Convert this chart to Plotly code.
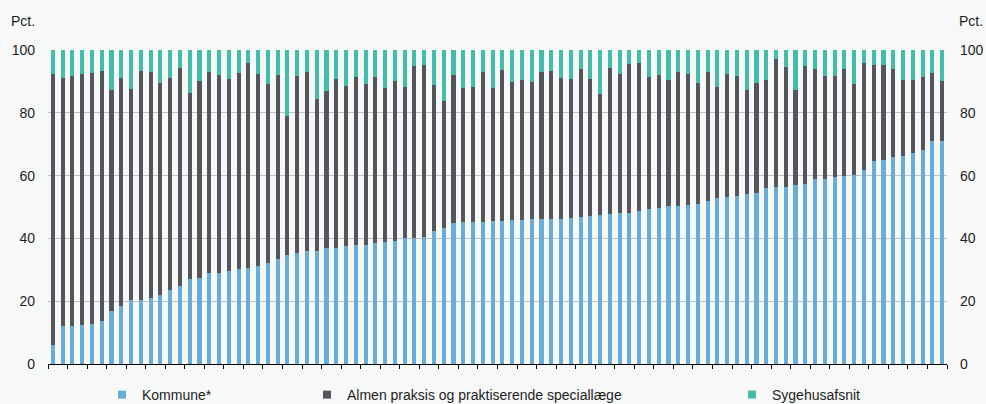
import plotly.graph_objects as go

# Municipalities (sorted by Kommune share); names are not shown in the chart
municipalities = [str(i) for i in range(1, 93)]

kommune = [6.2, 12.0, 12.0, 12.3, 12.7, 13.7, 16.9, 18.4, 20.3, 20.5,
           21.1, 22.0, 23.7, 24.8, 27.2, 27.4, 28.9, 29.0, 29.7, 30.1,
           30.7, 31.2, 32.3, 33.3, 34.6, 35.4, 36.0, 36.1, 36.8, 37.0,
           37.7, 38.0, 38.0, 38.6, 39.0, 39.2, 40.1, 40.2, 40.4, 42.3,
           43.2, 44.9, 45.1, 45.2, 45.3, 45.5, 45.5, 45.8, 45.9, 46.1,
           46.1, 46.2, 46.2, 46.5, 46.8, 47.2, 47.5, 47.7, 48.1, 48.1,
           48.7, 49.4, 49.6, 50.2, 50.4, 50.5, 50.8, 51.8, 52.9, 53.1,
           53.6, 54.2, 54.5, 56.2, 56.4, 56.5, 57.0, 57.2, 58.8, 58.9,
           59.6, 59.9, 60.2, 61.9, 64.6, 65.0, 65.9, 66.3, 67.3, 68.2,
           70.9, 71.0]

almen = [86.3, 79.2, 79.8, 80.1, 80.1, 79.7, 70.4, 72.8, 67.2, 72.9,
         71.8, 67.6, 67.5, 69.6, 59.0, 62.7, 64.2, 63.1, 61.2, 62.5,
         65.1, 61.3, 57.0, 58.7, 44.5, 56.4, 57.1, 48.3, 50.2, 53.9,
         50.9, 53.5, 51.3, 52.9, 48.8, 51.0, 48.2, 54.7, 54.9, 46.7,
         40.6, 47.1, 42.9, 43.1, 47.8, 42.5, 48.2, 43.9, 44.7, 43.8,
         47.0, 47.2, 45.0, 44.4, 47.3, 43.6, 38.6, 46.7, 44.4, 47.5,
         47.1, 42.1, 42.5, 40.4, 42.7, 41.9, 38.7, 41.3, 35.4, 39.4,
         38.2, 33.2, 35.1, 34.1, 40.8, 38.2, 30.3, 37.7, 35.3, 32.9,
         32.2, 34.2, 29.1, 34.1, 30.7, 30.3, 28.2, 24.3, 23.3, 23.3,
         21.9, 19.2]

sygehus = [7.5, 8.8, 8.2, 7.6, 7.2, 6.6, 12.7, 8.8, 12.5, 6.6,
           7.1, 10.4, 8.8, 5.6, 13.8, 9.9, 6.9, 7.9, 9.1, 7.4,
           4.2, 7.5, 10.7, 8.0, 20.9, 8.2, 6.9, 15.6, 13.0, 9.1,
           11.4, 8.5, 10.7, 8.5, 12.2, 9.8, 11.7, 5.1, 4.7, 11.0,
           16.2, 8.0, 12.0, 11.7, 6.9, 12.0, 6.3, 10.3, 9.4, 10.1,
           6.9, 6.6, 8.8, 9.1, 5.9, 9.2, 13.9, 5.6, 7.5, 4.4,
           4.2, 8.5, 7.9, 9.4, 6.9, 7.6, 10.5, 6.9, 11.7, 7.5,
           8.2, 12.6, 10.4, 9.7, 2.8, 5.3, 12.7, 5.1, 5.9, 8.2,
           8.2, 5.9, 10.7, 4.0, 4.7, 4.7, 5.9, 9.4, 9.4, 8.5,
           7.2, 9.8]

series_names = ["Kommune*", "Almen praksis og praktiserende speciallæge", "Sygehusafsnit"]
colors = ["#69acd8", "#55565b", "#44bcaa"]
y_ticks = [0, 20, 40, 60, 80, 100]
unit_label = "Pct."

BG = "#f7f8f8"
FONT = "Liberation Sans, Arial, sans-serif"
TXT = "#1e1e1e"

fig = go.Figure()
for vals, name, col in zip([kommune, almen, sygehus], series_names, colors):
    fig.add_trace(go.Bar(x=municipalities, y=vals, name=name, marker_color=col,
                         marker_line_width=0, showlegend=False))

legend_ids = ["legend", "legend2", "legend3"]
for name, col, lid in zip(series_names, colors, legend_ids):
    fig.add_trace(go.Scatter(x=[None], y=[None], mode="markers", name=name,
                             marker=dict(symbol="square", size=8, color=col),
                             legend=lid, yaxis="y2", showlegend=True))

L, R, T, B = 48, 39, 50, 40
W, H = 986, 404
pw = W - L - R
ph = H - T - B

def px_x(p):
    return (p - L) / pw

def px_y(p):
    return (H - B - p) / ph

legend_common = dict(orientation="h", font=dict(family=FONT, size=14, color=TXT),
                     bgcolor="rgba(0,0,0,0)", yanchor="top", y=px_y(379),
                     xanchor="left", itemclick=False, itemdoubleclick=False)

fig.update_layout(
    width=W, height=H,
    margin=dict(l=L, r=R, t=T, b=B, pad=0, autoexpand=False),
    paper_bgcolor=BG, plot_bgcolor=BG,
    barmode="stack", bargap=0.58,
    font=dict(family=FONT, size=14, color=TXT),
    showlegend=True,
    legend=dict(x=px_x(102), **legend_common),
    legend2=dict(x=px_x(307), **legend_common),
    legend3=dict(x=px_x(732), **legend_common),
    xaxis=dict(type="category", showticklabels=False, ticks="outside", ticklen=4,
               tickcolor="#000000", tickwidth=1, tickson="boundaries",
               showline=True, linecolor="#000000", linewidth=1, showgrid=False,
               automargin=False, range=[-0.5, len(municipalities) - 0.5]),
    yaxis=dict(range=[0, 100], tickvals=y_ticks, showgrid=True, gridcolor="#c2c2c2",
               gridwidth=1, zeroline=False, showline=False, ticks="", automargin=False,
               ticklabelstandoff=12, tickfont=dict(family=FONT, size=14, color=TXT)),
    yaxis2=dict(range=[0, 100], tickvals=y_ticks, overlaying="y", side="right",
                showgrid=False, zeroline=False, showline=False, ticks="", automargin=False,
                ticklabelstandoff=12, tickfont=dict(family=FONT, size=14, color=TXT)),
    annotations=[
        dict(text=unit_label, xref="paper", yref="paper", x=px_x(9), y=px_y(21),
             xanchor="left", yanchor="middle", showarrow=False,
             font=dict(family=FONT, size=14, color=TXT)),
        dict(text=unit_label, xref="paper", yref="paper", x=px_x(957), y=px_y(21),
             xanchor="left", yanchor="middle", showarrow=False,
             font=dict(family=FONT, size=14, color=TXT)),
    ],
)

fig.write_html("out.html", config={"displayModeBar": False},
               post_script="document.body.style.margin='0';")
